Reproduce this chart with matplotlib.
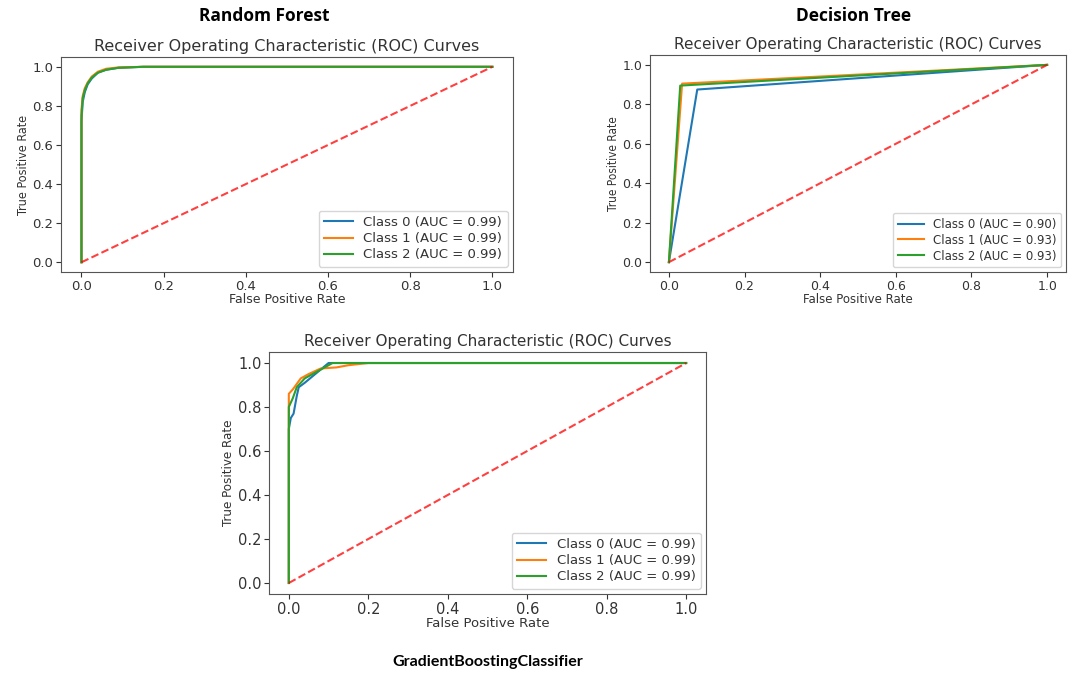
import matplotlib
matplotlib.use('Agg')
import matplotlib.pyplot as plt

# Random Forest ROC points
rf_fpr_0 = [0.0, 0.0, 0.003, 0.008, 0.015, 0.025, 0.04, 0.06, 0.09, 0.15, 1.0]
rf_tpr_0 = [0.0, 0.72, 0.82, 0.87, 0.91, 0.94, 0.97, 0.985, 0.995, 1.0, 1.0]
rf_fpr_1 = [0.0, 0.0, 0.003, 0.008, 0.015, 0.025, 0.04, 0.06, 0.09, 0.15, 1.0]
rf_tpr_1 = [0.0, 0.78, 0.85, 0.89, 0.92, 0.95, 0.975, 0.99, 0.997, 1.0, 1.0]
rf_fpr_2 = [0.0, 0.0, 0.003, 0.008, 0.015, 0.025, 0.04, 0.06, 0.09, 0.15, 1.0]
rf_tpr_2 = [0.0, 0.75, 0.84, 0.88, 0.915, 0.945, 0.97, 0.985, 0.995, 1.0, 1.0]

# Decision Tree ROC points
dt_fpr_0 = [0.0, 0.075, 1.0]
dt_tpr_0 = [0.0, 0.875, 1.0]
dt_fpr_1 = [0.0, 0.035, 1.0]
dt_tpr_1 = [0.0, 0.905, 1.0]
dt_fpr_2 = [0.0, 0.03, 1.0]
dt_tpr_2 = [0.0, 0.895, 1.0]

# Gradient Boosting ROC points
gb_fpr_0 = [0.0, 0.0, 0.005, 0.012, 0.02, 0.025, 0.04, 0.06, 0.08, 0.1, 1.0]
gb_tpr_0 = [0.0, 0.70, 0.75, 0.77, 0.85, 0.89, 0.91, 0.94, 0.97, 1.0, 1.0]
gb_fpr_1 = [0.0, 0.0, 0.01, 0.03, 0.05, 0.08, 0.12, 0.15, 0.2, 1.0]
gb_tpr_1 = [0.0, 0.86, 0.88, 0.93, 0.95, 0.975, 0.98, 0.99, 1.0, 1.0]
gb_fpr_2 = [0.0, 0.0, 0.01, 0.02, 0.04, 0.07, 0.1, 0.11, 1.0]
gb_tpr_2 = [0.0, 0.80, 0.84, 0.89, 0.93, 0.96, 0.99, 1.0, 1.0]

rf_auc = [0.99, 0.99, 0.99]
dt_auc = [0.90, 0.93, 0.93]
gb_auc = [0.99, 0.99, 0.99]

colors = ['#1f77b4', '#ff7f0e', '#2ca02c']


def roc_plot(ax, fprs, tprs, aucs, tick_fs, label_fs, title_fs, leg_fs):
    for i in range(3):
        ax.plot(fprs[i], tprs[i], color=colors[i], lw=1.5,
                label='Class %d (AUC = %.2f)' % (i, aucs[i]))
    ax.plot([0, 1], [0, 1], 'r--', lw=1.5, alpha=0.75)
    ax.set_title('Receiver Operating Characteristic (ROC) Curves', fontsize=title_fs, color='#333333', pad=4)
    ax.set_xlabel('False Positive Rate', fontsize=label_fs, color='#333333', labelpad=0)
    ax.set_ylabel('True Positive Rate', fontsize=label_fs, color='#333333',
                  fontstretch='condensed', labelpad=2)
    ax.tick_params(labelsize=tick_fs, colors='#333333', pad=2)
    for s in ax.spines.values():
        s.set_color('#555555')
    ax.legend(loc='lower right', fontsize=leg_fs, handlelength=2.2, borderaxespad=0.4,
              labelspacing=0.25, labelcolor='#333333')


fig = plt.figure(figsize=(10.88, 6.75), dpi=100)

ax1 = fig.add_axes([0.056, 0.597, 0.4154, 0.3185])
roc_plot(ax1, [rf_fpr_0, rf_fpr_1, rf_fpr_2], [rf_tpr_0, rf_tpr_1, rf_tpr_2], rf_auc, 9.5, 9, 11.5, 9.5)

ax2 = fig.add_axes([0.5974, 0.597, 0.3824, 0.3215])
roc_plot(ax2, [dt_fpr_0, dt_fpr_1, dt_fpr_2], [dt_tpr_0, dt_tpr_1, dt_tpr_2], dt_auc, 9, 8.5, 11, 8.5)

ax3 = fig.add_axes([0.2472, 0.12, 0.4017, 0.3585])
roc_plot(ax3, [gb_fpr_0, gb_fpr_1, gb_fpr_2], [gb_tpr_0, gb_tpr_1, gb_tpr_2], gb_auc, 10.5, 9.5, 11, 9.5)

fig.text(264 / 1088, 1 - 16 / 675, 'Random Forest', ha='center', va='center',
         fontsize=12.5, fontweight='bold', family='Open Sans')
fig.text(854 / 1088, 1 - 16 / 675, 'Decision Tree', ha='center', va='center',
         fontsize=12.5, fontweight='bold', family='Open Sans')
fig.text(488 / 1088, 1 - 662 / 675, 'GradientBoostingClassifier', ha='center', va='center',
         fontsize=11.5, fontweight='bold', family='Lato')

fig.savefig('out.png', dpi=100)
